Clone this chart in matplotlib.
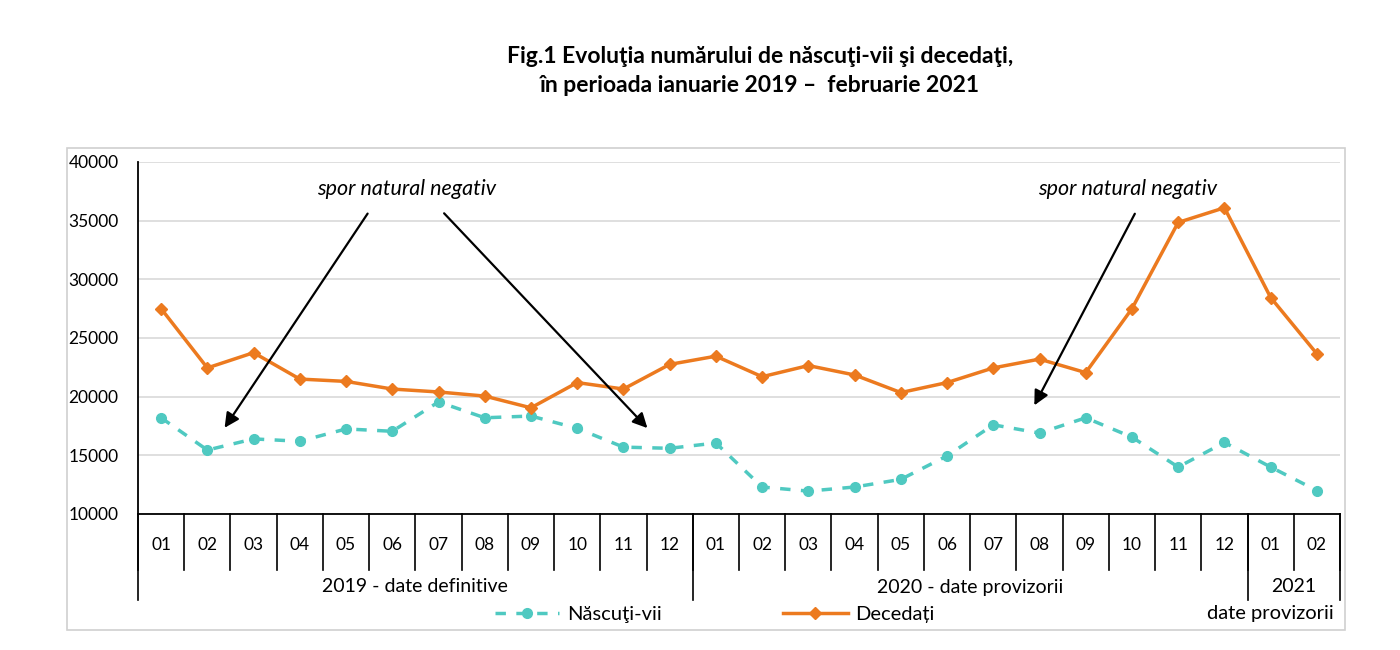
import numpy as np
import matplotlib.pyplot as plt
from matplotlib.patches import Rectangle
import matplotlib.transforms as mtransforms

plt.rcParams['font.family'] = ['Lato', 'DejaVu Sans']

# Date
luni = ["01", "02", "03", "04", "05", "06", "07", "08", "09", "10", "11", "12",
        "01", "02", "03", "04", "05", "06", "07", "08", "09", "10", "11", "12",
        "01", "02"]
ani = ["2019 - date definitive", "2020 - date provizorii", "2021"]
luni_pe_an = [12, 12, 2]

nascuti_vii = [18200, 15450, 16400, 16200, 17250, 17050, 19550, 18200, 18350, 17300, 15700, 15600,
               16050, 12300, 11950, 12300, 12950, 14950, 17600, 16900, 18200, 16550, 14000, 16100,
               14000, 12000]
decedati = [27500, 22450, 23750, 21500, 21300, 20650, 20400, 20050, 19050, 21200, 20650, 22750,
            23450, 21700, 22650, 21850, 20350, 21200, 22450, 23200, 22050, 27500, 34850, 36100,
            28450, 23650]

x = np.arange(len(luni))

fig = plt.figure(figsize=(14, 6.5), dpi=100)
ax = fig.add_axes([138 / 1400, 1 - 514 / 650, (1340 - 138) / 1400, (514 - 162) / 650])

# chenar exterior
fig.patches.append(Rectangle((67 / 1400, 1 - 630 / 650), (1345 - 67) / 1400, (630 - 148) / 650,
                             transform=fig.transFigure, fill=False, edgecolor='#d0d0d0', lw=1.2))

ax.plot(x, nascuti_vii, color='#4fc9c1', ls=(0, (3, 3)), lw=2.5, marker='o', ms=7,
        label='Născuţi-vii')
ax.plot(x, decedati, color='#ec7a1f', lw=2.5, marker='D', ms=6, label='Decedați')

ax.set_xlim(-0.5, len(luni) - 0.5)
ax.set_ylim(10000, 40000)
ax.set_yticks(np.arange(10000, 40001, 5000))
ax.tick_params(axis='y', length=0, labelsize=12.5, pad=14)
ax.set_xticks([])
ax.grid(axis='y', color='#d9d9d9', lw=1.2)
ax.set_axisbelow(True)
for s in ['top', 'right']:
    ax.spines[s].set_visible(False)
ax.spines['left'].set_linewidth(1.3)
ax.spines['bottom'].set_linewidth(1.3)

# axa categoriilor cu doua niveluri
trans = mtransforms.blended_transform_factory(ax.transData, ax.transAxes)
h = 514 - 162
for i, lb in enumerate(luni):
    ax.text(i, -(545 - 514) / h, lb, transform=trans, ha='center', va='center', fontsize=12.5)
for i in range(len(luni) + 1):
    ax.plot([i - 0.5, i - 0.5], [0, -(570 - 514) / h], transform=trans, color='black',
            lw=1.2, clip_on=False)
start = 0
for an, n in zip(ani, luni_pe_an):
    ax.plot([start - 0.5, start - 0.5], [0, -(600 - 514) / h], transform=trans,
            color='black', lw=1.2, clip_on=False)
    ax.text(start - 0.5 + n / 2, -(587 - 514) / h, an, transform=trans, ha='center',
            va='center', fontsize=14)
    start += n
ax.plot([start - 0.5, start - 0.5], [0, -(600 - 514) / h], transform=trans,
        color='black', lw=1.2, clip_on=False)
ax.text(start - 0.63, -(614 - 514) / h, 'date provizorii', transform=trans, ha='right',
        va='center', fontsize=14.5)

# adnotari
arrow = dict(arrowstyle='-|>', color='black', lw=1.6, mutation_scale=22)
ax.annotate('', xy=(1.34, 17150), xytext=(4.5, 35800), arrowprops=arrow)
ax.annotate('', xy=(10.56, 17150), xytext=(6.08, 35800), arrowprops=arrow)
ax.annotate('', xy=(18.86, 19050), xytext=(21.09, 35800), arrowprops=arrow)
ax.text(5.3, 37700, 'spor natural negativ', style='italic', fontsize=15.5, ha='center', va='center')
ax.text(20.9, 37700, 'spor natural negativ', style='italic', fontsize=15.5, ha='center', va='center')

fig.text(760 / 1400, 1 - 71 / 650,
         'Fig.1 Evoluţia numărului de născuţi-vii şi decedaţi,\nîn perioada ianuarie 2019 –  februarie 2021',
         ha='center', va='center', fontsize=16.5, fontweight='bold', linespacing=1.5)

fig.legend(loc='center', bbox_to_anchor=(715 / 1400, 1 - 614 / 650), ncol=2, frameon=False,
           fontsize=14.5, handlelength=3.2, handletextpad=0.4, columnspacing=6)

fig.savefig('out.png', dpi=100)
